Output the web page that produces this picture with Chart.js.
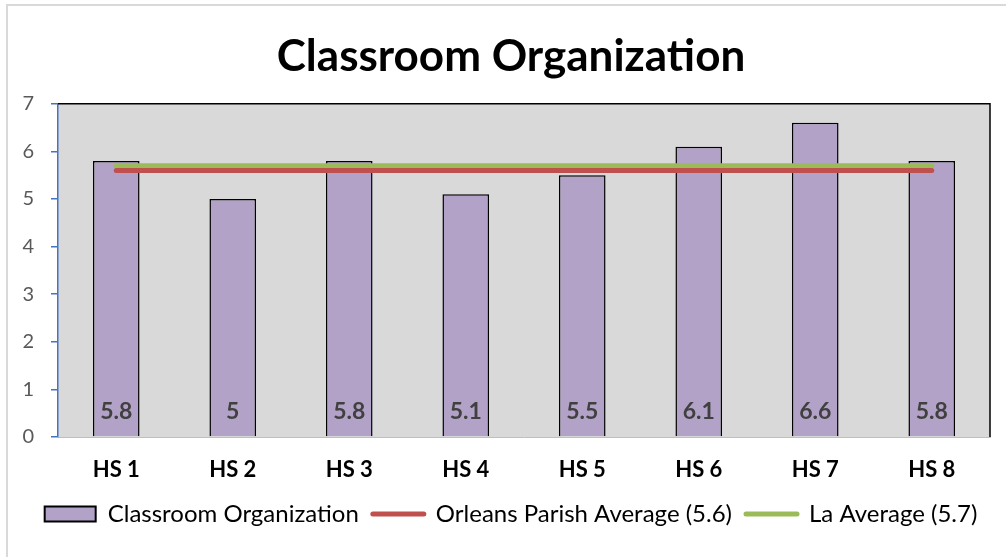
<!DOCTYPE html>
<html>
<head>
<meta charset="utf-8">
<script src="https://cdn.jsdelivr.net/npm/chart.js@4"></script>
<style>
  html, body { margin: 0; padding: 0; background: #fff; }
  #wrap { position: relative; width: 1006px; height: 557px; }
</style>
</head>
<body>
<div id="wrap"><canvas id="chart" width="1006" height="557"></canvas></div>
<script>
// data
const schools     = ['HS 1', 'HS 2', 'HS 3', 'HS 4', 'HS 5', 'HS 6', 'HS 7', 'HS 8'];
const scores      = [5.8, 5, 5.8, 5.1, 5.5, 6.1, 6.6, 5.8];
const parishAvg   = [5.6, 5.6, 5.6, 5.6, 5.6, 5.6, 5.6, 5.6];
const stateAvg    = [5.7, 5.7, 5.7, 5.7, 5.7, 5.7, 5.7, 5.7];
const yTicks      = [0, 1, 2, 3, 4, 5, 6, 7];

const FONT = 'Lato, "Open Sans", sans-serif';

/** Grey plot background, black top/right edge and the outer frame. */
const plotDecor = {
  id: 'plotDecor',
  afterLayout(chart) {
    // title and legend sit centred over the plot rather than the whole canvas
    chart.legend.left      += 16;
    chart.legend.right     += 16;
    chart.titleBlock.left  += 16;
    chart.titleBlock.right += 16;
  },
  beforeDraw(chart) {
    const { ctx, chartArea: a } = chart;
    ctx.save();
    ctx.fillStyle = '#d9d9d9';
    ctx.fillRect(a.left, a.top, a.right - a.left, a.bottom - a.top);
    // outer frame, only top and left visible
    ctx.strokeStyle = '#d9d9d9';
    ctx.lineWidth = 2;
    ctx.beginPath();
    ctx.moveTo(7, 560);
    ctx.lineTo(7, 5);
    ctx.lineTo(1010, 5);
    ctx.stroke();
    ctx.restore();
  },
  beforeDatasetsDraw(chart) {
    const { ctx, chartArea: a } = chart;
    ctx.save();
    ctx.strokeStyle = '#000';
    ctx.lineWidth = 1.5;
    ctx.beginPath();
    ctx.moveTo(a.left, a.top);
    ctx.lineTo(a.right, a.top);
    ctx.lineTo(a.right, a.bottom);
    ctx.stroke();
    ctx.restore();
  },
};

/** Value labels near the base of each bar. */
const barLabels = {
  id: 'barLabels',
  afterDatasetsDraw(chart) {
    const { ctx } = chart;
    const meta = chart.getDatasetMeta(0);
    ctx.save();
    ctx.font = `bold 23px ${FONT}`;
    ctx.fillStyle = '#404040';
    ctx.textAlign = 'center';
    ctx.textBaseline = 'middle';
    meta.data.forEach((bar, i) => {
      ctx.fillText(String(scores[i]), bar.x, bar.base - 25);
    });
    ctx.restore();
  },
};

new Chart(document.getElementById('chart'), {
  type: 'bar',
  data: {
    labels: schools,
    datasets: [
      {
        label:           'Classroom Organization',
        data:            scores,
        backgroundColor: '#b3a2c7',
        borderColor:     '#000',
        borderWidth:     1.5,
        barPercentage:   0.4,
        categoryPercentage: 1,
        order:           1,
      },
      {
        type:            'line',
        label:           'Orleans Parish Average (5.6)',
        data:            parishAvg,
        borderColor:     '#c0504d',
        backgroundColor: '#c0504d',
        borderWidth:     5,
        borderCapStyle:  'round',
        pointRadius:     0,
        pointStyle:      'line',
        order:           0,
      },
      {
        type:            'line',
        label:           'La Average (5.7)',
        data:            stateAvg,
        borderColor:     '#9bbb59',
        backgroundColor: '#9bbb59',
        borderWidth:     5,
        borderCapStyle:  'round',
        pointRadius:     0,
        pointStyle:      'line',
        order:           0,
      },
    ],
  },
  options: {
    responsive: false,
    animation:  false,
    layout: { padding: { left: 0, right: 16, top: 0, bottom: 21 } },
    plugins: {
      tooltip: { enabled: false },
      title: {
        display: true,
        text:    'Classroom Organization',
        color:   '#000',
        font:    { family: FONT, size: 44, weight: 'bold' },
        padding: { top: 30, bottom: 21 },
      },
      legend: {
        position: 'bottom',
        labels: {
          usePointStyle:   true,
          pointStyleWidth: 51,
          boxHeight:       15,
          color:           '#000',
          font:            { family: FONT, size: 24 },
          padding:         14,
          sort: (a, b) => a.datasetIndex - b.datasetIndex,
          generateLabels(chart) {
            return chart.data.datasets.map((ds, i) => ({
              text:         ds.label,
              datasetIndex: i,
              fillStyle:    ds.backgroundColor,
              strokeStyle:  ds.type === 'line' ? ds.borderColor : '#000',
              lineWidth:    ds.type === 'line' ? 5 : 2,
              lineCap:      'round',
              pointStyle:   ds.type === 'line' ? 'line' : 'rect',
              fontColor:    '#000',
              hidden:       false,
            }));
          },
        },
      },
    },
    scales: {
      x: {
        afterFit(scale) { scale.height = 51; },
        grid:   { display: true, drawOnChartArea: false, drawTicks: false },
        border: { display: true, color: '#bfbfbf', width: 1 },
        ticks:  { color: '#000', padding: 20, font: { family: FONT, size: 22, weight: 'bold' } },
      },
      y: {
        min: yTicks[0],
        max: yTicks[yTicks.length - 1],
        afterFit(scale) { scale.width = 58; },
        afterBuildTicks(scale) { scale.ticks = yTicks.map(v => ({ value: v })); },
        grid:   { drawOnChartArea: false, color: '#4472c4', tickLength: 7, lineWidth: 1.5 },
        border: { display: true, color: '#4472c4', width: 1.5 },
        ticks:  { color: '#595959', padding: 17, font: { family: FONT, size: 20 } },
      },
    },
  },
  plugins: [plotDecor, barLabels],
});
</script>
</body>
</html>
